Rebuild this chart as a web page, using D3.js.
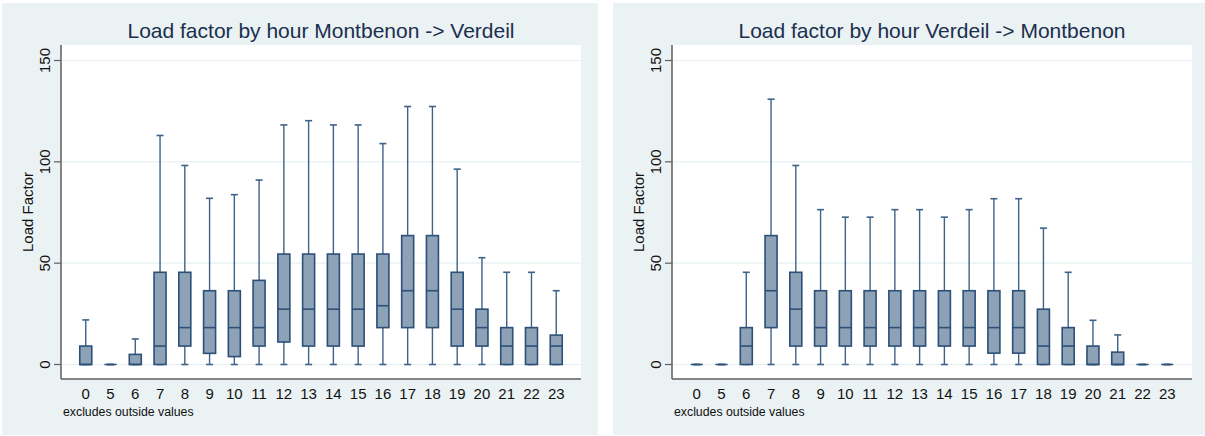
<!DOCTYPE html>
<html lang="en">
<head>
  <meta charset="utf-8">
  <script src="https://d3js.org/d3.v7.min.js"></script>
  <title>Load factor by hour</title>
  <style>
    body { margin: 0; background: #fff; }
    text { font-family: "Liberation Sans", Arial, sans-serif; }
  </style>
</head>
<body>
  <svg id="chart" width="1205" height="436"></svg>

  <script type="text/javascript">
    // hours on the x axis (same for both panels)
    const hours = [0, 5, 6, 7, 8, 9, 10, 11, 12, 13, 14, 15, 16, 17, 18, 19, 20, 21, 22, 23];
    const yTicks = [0, 50, 100, 150];

    // Montbenon -> Verdeil
    const mvLow = [0, 0, 0, 0, 0, 0, 0, 0, 0, 0, 0, 0, 0, 0, 0, 0, 0, 0, 0, 0];
    const mvQ1 = [0, 0, 0, 0, 9.1, 5.5, 3.9, 9.1, 11.1, 9.1, 9.1, 9.1, 18.2, 18.2, 18.2, 9.1, 9.1, 0, 0, 0];
    const mvMed = [0, 0, 0, 9.1, 18.2, 18.2, 18.2, 18.2, 27.3, 27.3, 27.3, 27.3, 29, 36.4, 36.4, 27.3, 18.2, 9.1, 9.1, 9.1];
    const mvQ3 = [9.1, 0, 5, 45.5, 45.5, 36.4, 36.4, 41.5, 54.5, 54.5, 54.5, 54.5, 54.5, 63.6, 63.6, 45.5, 27.3, 18.2, 18.2, 14.5];
    const mvHigh = [22, 0, 12.6, 113, 98.2, 82, 83.8, 91, 118.2, 120.3, 118.2, 118.2, 109, 127.3, 127.3, 96.4, 52.7, 45.5, 45.5, 36.4];

    // Verdeil -> Montbenon
    const vmLow = [0, 0, 0, 0, 0, 0, 0, 0, 0, 0, 0, 0, 0, 0, 0, 0, 0, 0, 0, 0];
    const vmQ1 = [0, 0, 0, 18.2, 9.1, 9.1, 9.1, 9.1, 9.1, 9.1, 9.1, 9.1, 5.6, 5.6, 0, 0, 0, 0, 0, 0];
    const vmMed = [0, 0, 9.1, 36.4, 27.3, 18.2, 18.2, 18.2, 18.2, 18.2, 18.2, 18.2, 18.2, 18.2, 9.1, 9.1, 0, 0, 0, 0];
    const vmQ3 = [0, 0, 18.2, 63.6, 45.5, 36.4, 36.4, 36.4, 36.4, 36.4, 36.4, 36.4, 36.4, 36.4, 27.3, 18.2, 9.1, 6.1, 0, 0];
    const vmHigh = [0, 0, 45.5, 130.9, 98.2, 76.4, 72.7, 72.7, 76.4, 76.4, 72.7, 76.4, 81.8, 81.8, 67.3, 45.5, 21.8, 14.6, 0, 0];

    let svg = d3.select("#chart");

    function drawPanel(px, pw, title, low, q1, med, q3, high) {
      let panel = svg.append("g").attr("transform", "translate(" + px + ",3)");
      let ph = 432;
      let margin = { left: 59, top: 42 };
      let plotW = 520;
      let plotH = 334;

      panel.append("rect")
        .attr("width", pw).attr("height", ph)
        .attr("fill", "#eaf2f3");

      let plot = panel.append("g").attr("transform", "translate(" + margin.left + "," + margin.top + ")");

      plot.append("rect")
        .attr("width", plotW).attr("height", plotH)
        .attr("fill", "#fff");

      let x = d3.scalePoint().domain(hours).range([0, plotW]).padding(1);
      let y = d3.scaleLinear().domain([0, 150]).range([319.5, 15.5]);

      // gridlines
      plot.selectAll(".grid").data(yTicks).enter()
        .append("line")
        .attr("x1", 0).attr("x2", plotW)
        .attr("y1", d => y(d)).attr("y2", d => y(d))
        .attr("stroke", "#e6eff1").attr("stroke-width", 1.2);

      let rows = hours.map((h, i) => ({ h: h, low: low[i], q1: q1[i], med: med[i], q3: q3[i], high: high[i] }));
      let boxW = 12, capW = 7;
      let boxes = plot.selectAll(".box").data(rows).enter().append("g");

      boxes.append("line")
        .attr("x1", d => x(d.h)).attr("x2", d => x(d.h))
        .attr("y1", d => y(d.high)).attr("y2", d => y(d.q3))
        .attr("stroke", "#3e6289").attr("stroke-width", 1.4);
      boxes.append("line")
        .attr("x1", d => x(d.h)).attr("x2", d => x(d.h))
        .attr("y1", d => y(d.q1)).attr("y2", d => y(d.low))
        .attr("stroke", "#3e6289").attr("stroke-width", 1.4);
      boxes.append("line")
        .attr("x1", d => x(d.h) - capW / 2).attr("x2", d => x(d.h) + capW / 2)
        .attr("y1", d => y(d.high)).attr("y2", d => y(d.high))
        .attr("stroke", "#3e6289").attr("stroke-width", 1.6);
      boxes.append("line")
        .attr("x1", d => x(d.h) - capW / 2).attr("x2", d => x(d.h) + capW / 2)
        .attr("y1", d => y(d.low)).attr("y2", d => y(d.low))
        .attr("stroke", "#3e6289").attr("stroke-width", 1.6);
      boxes.append("rect")
        .attr("x", d => x(d.h) - boxW / 2)
        .attr("y", d => y(d.q3))
        .attr("width", boxW)
        .attr("height", d => y(d.q1) - y(d.q3))
        .attr("fill", "#8da2b6")
        .attr("stroke", "#2c5077").attr("stroke-width", 1.6);
      boxes.append("line")
        .attr("x1", d => x(d.h) - boxW / 2).attr("x2", d => x(d.h) + boxW / 2)
        .attr("y1", d => y(d.med)).attr("y2", d => y(d.med))
        .attr("stroke", "#2c5077").attr("stroke-width", 1.6);

      // axes
      plot.append("line")
        .attr("x1", 0).attr("x2", plotW).attr("y1", plotH).attr("y2", plotH)
        .attr("stroke", "#5e5e5e").attr("stroke-width", 1.5);
      plot.append("line")
        .attr("x1", 0).attr("x2", 0).attr("y1", 0).attr("y2", plotH)
        .attr("stroke", "#5e5e5e").attr("stroke-width", 1.5);

      plot.selectAll(".ytick").data(yTicks).enter()
        .append("line")
        .attr("x1", -7).attr("x2", 0)
        .attr("y1", d => y(d)).attr("y2", d => y(d))
        .attr("stroke", "#5e5e5e").attr("stroke-width", 1.2);

      plot.selectAll(".ylab").data(yTicks).enter()
        .append("text")
        .attr("transform", d => "translate(-11," + y(d) + ") rotate(-90)")
        .attr("text-anchor", "middle")
        .attr("font-size", 15)
        .attr("fill", "#111")
        .text(d => d);

      plot.selectAll(".xlab").data(hours).enter()
        .append("text")
        .attr("x", d => x(d)).attr("y", plotH + 19.5)
        .attr("text-anchor", "middle")
        .attr("font-size", 15)
        .attr("fill", "#111")
        .text(d => d);

      plot.append("text")
        .attr("transform", "translate(-28," + plotH / 2 + ") rotate(-90)")
        .attr("text-anchor", "middle")
        .attr("font-size", 15)
        .attr("fill", "#111")
        .text("Load Factor");

      plot.append("text")
        .attr("x", 2).attr("y", plotH + 37)
        .attr("font-size", 12.3)
        .attr("fill", "#111")
        .text("excludes outside values");

      panel.append("text")
        .attr("x", margin.left + plotW / 2).attr("y", 34.5)
        .attr("text-anchor", "middle")
        .attr("font-size", 21)
        .attr("fill", "#1b2f4e")
        .text(title);
    }

    drawPanel(2, 596, "Load factor by hour Montbenon -> Verdeil", mvLow, mvQ1, mvMed, mvQ3, mvHigh);
    drawPanel(613, 592, "Load factor by hour Verdeil -> Montbenon", vmLow, vmQ1, vmMed, vmQ3, vmHigh);
  </script>
</body>
</html>
